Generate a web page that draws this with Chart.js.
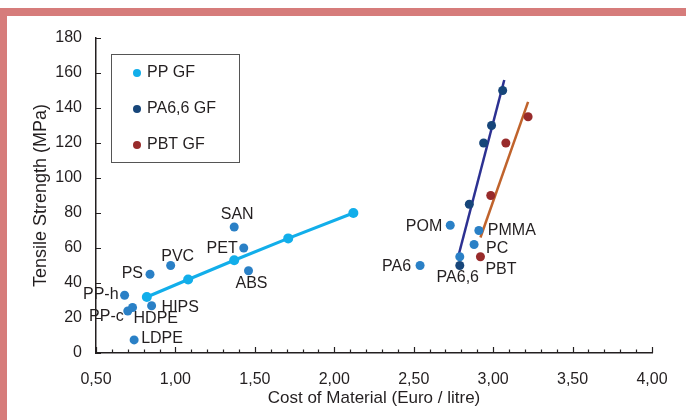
<!DOCTYPE html>
<html lang="en">
<head>
<meta charset="UTF-8">
<title>Tensile strength vs cost of material</title>
<script src="https://cdn.jsdelivr.net/npm/chart.js"></script>
<style>
    body { margin: 0; background: #fff; }
    .frame {
        position: absolute; left: 0; top: 8px; width: 686px; height: 412px;
        border-top: 8px solid #d67c7b; border-left: 7px solid #d67c7b;
        box-sizing: border-box;
    }
    #strengthChart { position: absolute; left: 0; top: 0; }
</style>
</head>
<body>
<div class="frame"></div>
<canvas id="strengthChart" width="686" height="420"></canvas>
<script>
    // unfilled materials
    const materialNames = ['PP-h', 'PP-c', 'HDPE', 'LDPE', 'HIPS', 'PS', 'PVC', 'SAN', 'PET', 'ABS', 'POM', 'PMMA', 'PC', 'PA6', 'PA6,6'];
    const materialCost = [0.68, 0.70, 0.73, 0.74, 0.85, 0.84, 0.97, 1.37, 1.43, 1.46, 2.73, 2.91, 2.88, 2.54, 2.79];
    const materialStrength = [33, 24, 26, 7.5, 27, 45, 50, 72, 60, 47, 73, 70, 62, 50, 55];

    // glass filled grades
    const ppGfCost = [0.82, 1.08, 1.37, 1.71, 2.12];
    const ppGfStrength = [32, 42, 53, 65.5, 80];

    const pa66GfCost = [2.79, 2.85, 2.94, 2.99, 3.06];
    const pa66GfStrength = [50, 85, 120, 130, 150];

    const pbtGfNames = ['PBT', '', '', ''];
    const pbtGfCost = [2.92, 2.985, 3.08, 3.22];
    const pbtGfStrength = [55, 90, 120, 135];

    // trend lines
    const pa66TrendCost = [2.78, 3.07];
    const pa66TrendStrength = [55, 156];
    const pbtTrendCost = [2.92, 3.22];
    const pbtTrendStrength = [66, 143.5];

    // label offsets from the dot: [dx, dy, align]
    const labelPlacement = {
        'PP-h': [-6, -1, 'right'],
        'PP-c': [-4, 6, 'right'],
        'HDPE': [1, 11, 'left'],
        'LDPE': [7, -1, 'left'],
        'HIPS': [10, 2, 'left'],
        'PS': [-7, -1, 'right'],
        'PVC': [7, -9, 'center'],
        'SAN': [3, -12, 'center'],
        'PET': [-6, 1, 'right'],
        'ABS': [3, 13, 'center'],
        'POM': [-8, 1, 'right'],
        'PMMA': [9, 0, 'left'],
        'PC': [12, 4, 'left'],
        'PA6': [-9, 1, 'right'],
        'PA6,6': [-2, 21, 'center'],
        'PBT': [5, 13, 'left']
    };

    const FONT = "'Liberation Sans', Arial, Helvetica, sans-serif";
    const INK = '#231f20';

    function toPoints(xs, ys) {
        return xs.map((x, i) => ({ x: x, y: ys[i] }));
    }

    const pointLabels = {
        id: 'pointLabels',
        afterDatasetsDraw(chart) {
            const ctx = chart.ctx;
            ctx.save();
            ctx.font = '16px ' + FONT;
            ctx.fillStyle = INK;
            ctx.textBaseline = 'middle';
            chart.data.datasets.forEach((ds, di) => {
                if (!ds.names) return;
                const meta = chart.getDatasetMeta(di);
                ds.names.forEach((name, i) => {
                    if (!name) return;
                    const p = meta.data[i];
                    const [dx, dy, align] = labelPlacement[name];
                    ctx.textAlign = align;
                    ctx.fillText(name, p.x + dx, p.y + dy);
                });
            });
            ctx.restore();
        }
    };

    const insideTicks = {
        id: 'insideTicks',
        afterDraw(chart) {
            const ctx = chart.ctx;
            const xs = chart.scales.x, ys = chart.scales.y;
            const left = chart.chartArea.left, bottom = chart.chartArea.bottom;
            ctx.save();
            ctx.strokeStyle = INK;
            ctx.lineWidth = 1.2;
            ctx.beginPath();
            for (let v = 0; v <= 180; v += 20) {
                const py = Math.round(ys.getPixelForValue(v)) + 0.5;
                ctx.moveTo(left, py);
                ctx.lineTo(left + 5, py);
            }
            for (let k = 5; k <= 40; k++) {
                const px = Math.round(xs.getPixelForValue(k / 10)) + 0.5;
                const len = k % 5 === 0 ? 6 : 3.5;
                ctx.moveTo(px, bottom);
                ctx.lineTo(px, bottom - len);
            }
            ctx.stroke();
            ctx.restore();
        }
    };

    const boxLegend = {
        id: 'boxLegend',
        afterDraw(chart) {
            const ctx = chart.ctx;
            const a = chart.chartArea;
            const bx = a.left + 15, by = a.top + 16;
            ctx.save();
            ctx.strokeStyle = '#555';
            ctx.lineWidth = 1;
            ctx.strokeRect(Math.round(bx) + 0.5, Math.round(by) + 0.5, 128, 108);
            ctx.font = '16px ' + FONT;
            ctx.textBaseline = 'middle';
            ctx.textAlign = 'left';
            chart.data.datasets.filter(ds => ds.inLegend).forEach((ds, i) => {
                const cy = by + 19 + i * 36;
                ctx.fillStyle = ds.backgroundColor;
                ctx.beginPath();
                ctx.arc(bx + 26, cy, 4, 0, Math.PI * 2);
                ctx.fill();
                ctx.fillStyle = INK;
                ctx.fillText(ds.label, bx + 36, cy);
            });
            ctx.restore();
        }
    };

    const ctx = document.getElementById('strengthChart').getContext('2d');
    const chart = new Chart(ctx, {
        type: 'scatter',
        data: {
            datasets: [
                {
                    label: 'Materials',
                    names: materialNames,
                    data: toPoints(materialCost, materialStrength),
                    backgroundColor: '#2a80c6',
                    borderWidth: 0,
                    pointRadius: 4.5
                },
                {
                    label: 'PP GF',
                    inLegend: true,
                    data: toPoints(ppGfCost, ppGfStrength),
                    backgroundColor: '#12aeea',
                    borderColor: '#12aeea',
                    showLine: true,
                    borderWidth: 3,
                    pointBorderWidth: 0,
                    pointRadius: 5
                },
                {
                    label: 'PA6,6 GF',
                    inLegend: true,
                    data: toPoints(pa66GfCost, pa66GfStrength),
                    backgroundColor: '#17467a',
                    borderWidth: 0,
                    pointRadius: 4.5
                },
                {
                    label: 'PBT GF',
                    inLegend: true,
                    names: pbtGfNames,
                    data: toPoints(pbtGfCost, pbtGfStrength),
                    backgroundColor: '#982b2b',
                    borderWidth: 0,
                    pointRadius: 4.5
                },
                {
                    label: 'PA6,6 GF trend',
                    data: toPoints(pa66TrendCost, pa66TrendStrength),
                    borderColor: '#2c3192',
                    showLine: true,
                    borderWidth: 2.5,
                    pointRadius: 0
                },
                {
                    label: 'PBT GF trend',
                    data: toPoints(pbtTrendCost, pbtTrendStrength),
                    borderColor: '#c0632c',
                    showLine: true,
                    borderWidth: 2.5,
                    pointRadius: 0
                }
            ]
        },
        options: {
            responsive: false,
            animation: false,
            layout: { padding: { top: 38, right: 34, left: 0, bottom: 0 } },
            plugins: {
                legend: { display: false },
                tooltip: { enabled: false }
            },
            scales: {
                x: {
                    type: 'linear',
                    min: 0.5,
                    max: 4,
                    afterFit: s => { s.height = 67; },
                    grid: { display: false },
                    border: { display: true, color: INK, width: 1.5 },
                    ticks: {
                        stepSize: 0.5,
                        padding: 9,
                        color: INK,
                        font: { family: FONT, size: 16 },
                        callback: v => v.toFixed(2).replace('.', ',')
                    },
                    title: {
                        display: true,
                        text: 'Cost of Material (Euro / litre)',
                        color: INK,
                        font: { family: FONT, size: 17 },
                        padding: { top: 0, bottom: 11 }
                    }
                },
                y: {
                    min: 0,
                    max: 180,
                    afterFit: s => { s.width = 96; },
                    grid: { display: false },
                    border: { display: true, color: INK, width: 1.5 },
                    ticks: {
                        stepSize: 20,
                        padding: 6,
                        color: INK,
                        font: { family: FONT, size: 16 }
                    },
                    title: {
                        display: true,
                        text: 'Tensile Strength (MPa)',
                        color: INK,
                        font: { family: FONT, size: 18 },
                        padding: { top: 30, bottom: 0 }
                    }
                }
            }
        },
        plugins: [pointLabels, insideTicks, boxLegend]
    });
</script>
</body>
</html>
